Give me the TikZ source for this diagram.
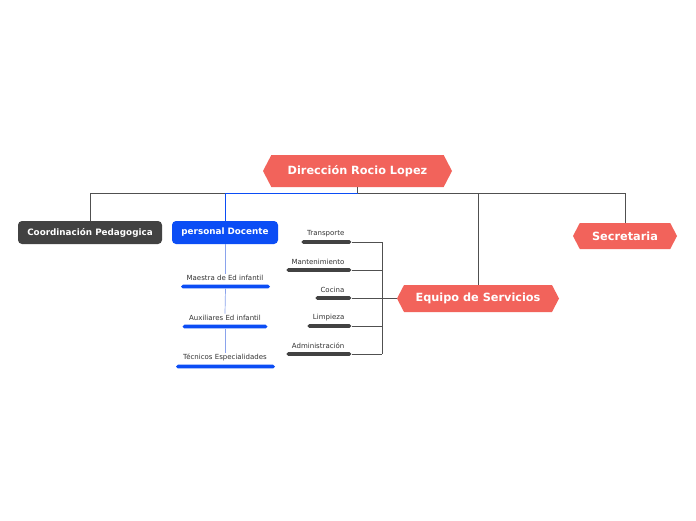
\documentclass[tikz,border=0pt]{standalone}
\usepackage{fontspec}
\setmainfont{DejaVu Sans}
\usetikzlibrary{shapes.symbols}
\definecolor{salmon}{HTML}{F2635B}
\definecolor{darkbox}{HTML}{424242}
\definecolor{bluebox}{HTML}{0B4DF5}
\definecolor{lineblue}{HTML}{8AA3EC}
\definecolor{conngray}{HTML}{505050}
\definecolor{txtgray}{HTML}{333333}
\tikzset{
  hexbox/.style={signal, signal to=east and west, signal pointer angle=125, fill=salmon, draw=none,
    text=white, inner sep=0pt, font=\bfseries\fontsize{11.3}{13}\selectfont},
  rbox/.style={rounded corners=4pt, draw=none, text=white, inner sep=0pt,
    font=\bfseries\fontsize{8.8}{10}\selectfont},
  leaf/.style={text=txtgray, inner sep=1pt, font=\fontsize{7}{8}\selectfont},
  bluebar/.style={fill=bluebox, rounded corners=1.8pt, minimum height=3.6pt, inner sep=0pt},
  graybar/.style={fill=darkbox, rounded corners=1.8pt, minimum height=3.6pt, inner sep=0pt},
  conn/.style={draw=conngray, line width=0.9pt},
  bconn/.style={draw=bluebox, line width=0.9pt},
  lconn/.style={draw=lineblue, line width=0.7pt}
}
\begin{document}
\begin{tikzpicture}[x=1pt,y=-1pt]
\useasboundingbox (0,0) rectangle (696,520);
\fill[white] (0,0) rectangle (696,520);

% main nodes
\node[hexbox, minimum width=189pt, minimum height=32pt] (dir) at (357.5,171) {Dirección Rocio Lopez};
\node[rbox, fill=darkbox, minimum width=144pt, minimum height=23pt] (cp) at (90,232.5) {Coordinación Pedagogica};
\node[rbox, fill=bluebox, minimum width=106pt, minimum height=23pt] (pd) at (225,232.5) {personal Docente};
\node[hexbox, minimum width=162pt, minimum height=27pt] (eq) at (478,298.5) {Equipo de Servicios};
\node[hexbox, minimum width=104pt, minimum height=26pt] (sec) at (625,236) {Secretaria};

% junction coordinates
\coordinate (j0) at (357.5,193.5);
\coordinate (jcp) at (90,193.5);
\coordinate (jpd) at (225,193.5);
\coordinate (jeq) at (478,193.5);
\coordinate (jsec) at (625,193.5);
\coordinate (jv) at (382,298.5);

% top connectors
\draw[conn] (dir.south) -- (j0);
\draw[bconn] (j0) -- (jpd) -- (pd.north);
\draw[conn] (jpd) -- (jcp) -- (cp.north);
\draw[conn] (j0) -- (jsec) -- (sec.north);
\draw[conn] (jeq) -- (eq.north);

% personal docente children
\node[leaf] (m1) at (225,277.5) {Maestra de Ed infantil};
\node[bluebar, minimum width=89pt] (m1b) at (225.5,286.5) {};
\node[leaf] (m2) at (225,317.5) {Auxiliares Ed infantil};
\node[bluebar, minimum width=85pt] (m2b) at (225,326.5) {};
\node[leaf] (m3) at (225,357.5) {Técnicos Especialidades};
\node[bluebar, minimum width=99pt] (m3b) at (225.5,366.5) {};
\draw[lconn] (pd.south) -- (m1.north);
\draw[lconn] (m1b.south) -- (m2.north);
\draw[lconn] (m2b.south) -- (m3.north);

% equipo de servicios children
\node[leaf, anchor=east] (s1) at (345.5,233.5) {Transporte};
\node[graybar, minimum width=50pt, anchor=east] (s1b) at (351.5,242) {};
\node[leaf, anchor=east] (s2) at (345.5,261.5) {Mantenimiento};
\node[graybar, minimum width=65pt, anchor=east] (s2b) at (351.5,270) {};
\node[leaf, anchor=east] (s3) at (345.5,289.5) {Cocina};
\node[graybar, minimum width=36pt, anchor=east] (s3b) at (351.5,298) {};
\node[leaf, anchor=east] (s4) at (345.5,317.5) {Limpieza};
\node[graybar, minimum width=44pt, anchor=east] (s4b) at (351.5,326) {};
\node[leaf, anchor=east] (s5) at (345.5,345.5) {Administración};
\node[graybar, minimum width=65pt, anchor=east] (s5b) at (351.5,354) {};

\draw[conn] (eq.west) -- (jv);
\draw[conn] (s1b.east -| jv) -- (s5b.east -| jv);
\foreach \b in {s1b,s2b,s3b,s4b,s5b}{
  \draw[conn] (\b.east) -- (\b.east -| jv);
}
\end{tikzpicture}
\end{document}
